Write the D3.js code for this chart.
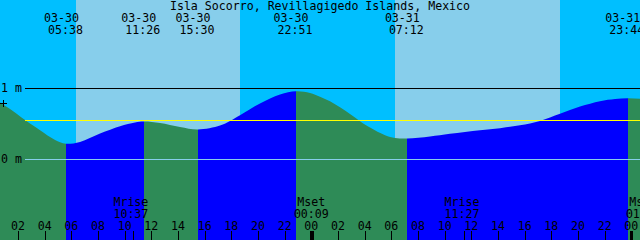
<!DOCTYPE html>
<html><head><meta charset="utf-8">
<script src="https://cdn.jsdelivr.net/npm/d3@7"></script>
<style>
html,body{margin:0;padding:0;background:#fff;}
svg{display:block;}
text{font-family:"DejaVu Sans Mono",monospace;font-size:11.6px;fill:#000;}
</style>
</head><body>
<svg id="c" width="640" height="240"></svg>
<script>
// ---------- data ----------
const title = "Isla Socorro, Revillagigedo Islands, Mexico";
const year = 2024;
const baseDate = "03-30";            // tide sample hours are counted from 00:00 of this day
const viewStart = "03-30 00:39";     // left edge of the chart (48 h window)
const viewHours = 48;

// tide level samples (hours after 03-30 00:00, metres)
const tideHours  = [-1, 0, 0.6525, 1.4025, 2.5275, 3.6525, 4.4025, 5.1525, 5.633, 6.6525, 8.1525, 9.6525, 10.78, 11.433, 12.65, 14.15, 15.5, 17.15, 17.9, 18.65, 20.15, 21.65, 22.85, 23.9, 24.65, 25.4, 26.15, 26.9, 27.65, 28.4, 29.53, 30.28, 31.2, 32.9, 34.4, 36.65, 38.15, 39.65, 41.15, 42.65, 44.15, 45.65, 46.78, 47.733, 48.65, 49.5];
const tideLevels = [0.94, 0.88, 0.803, 0.71, 0.556, 0.413, 0.318, 0.244, 0.222, 0.248, 0.366, 0.469, 0.521, 0.535, 0.515, 0.459, 0.423, 0.479, 0.544, 0.624, 0.789, 0.915, 0.962, 0.938, 0.884, 0.82, 0.735, 0.64, 0.54, 0.45, 0.342, 0.304, 0.296, 0.324, 0.362, 0.413, 0.441, 0.483, 0.544, 0.645, 0.745, 0.821, 0.852, 0.863, 0.854, 0.84];

// high / low tide events
const extremeDates = ["03-30", "03-30", "03-30", "03-30", "03-31", "03-31"];
const extremeTimes = ["05:38", "11:26", "15:30", "22:51", "07:12", "23:44"];
const extremeKinds = ["low", "high", "low", "high", "low", "high"];

// sunrise / sunset (pairs)
const sunriseTimes = ["03-30 06:21", "03-31 06:17"];
const sunsetTimes  = ["03-30 18:39", "03-31 18:39"];

// moon events
const moonLabels = ["Mrise", "Mset", "Mrise", "Mset"];
const moonDates  = ["03-30", "03-31", "03-31", "04-01"];
const moonTimes  = ["10:37", "00:09", "11:27", "01:03"];

// level axis
const levelTicks = [1, 0];
const levelTickLabels = ["1 m", "0 m"];
const meanLevel = 0.55;
const startLevel = 0.80;   // level at left edge (marked with +)

// ---------- helpers ----------
function parseMD(md, hm) {
  const [m, d] = md.split("-").map(Number);
  const [H, M] = (hm || "00:00").split(":").map(Number);
  return new Date(Date.UTC(year, m - 1, d, H, M));
}
function parseStamp(s) { const [md, hm] = s.split(" "); return parseMD(md, hm); }
const base = parseMD(baseDate, "00:00");
const start = parseStamp(viewStart);
const end = new Date(+start + viewHours * 3600e3);

const W = 640, H = 240;
const svg = d3.select("#c");
const xs = d3.scaleUtc().domain([start, end]).range([0, W]);
const ys = d3.scaleLinear().domain([0, 1]).range([159.5, 88.5]);

const NIGHT = "#00BFFF", DAY = "#87CEEB", RISING = "#0000FF", FALLING = "#2E8B57";

// background
svg.append("rect").attr("x", 0).attr("y", 0).attr("width", W).attr("height", H).attr("fill", NIGHT);
sunriseTimes.forEach((r, i) => {
  const x0 = Math.round(xs(parseStamp(r))), x1 = Math.round(xs(parseStamp(sunsetTimes[i])));
  svg.append("rect").attr("x", x0).attr("y", 0).attr("width", x1 - x0).attr("height", H).attr("fill", DAY);
});

// water
const tide = tideHours.map((h, i) => ({ t: new Date(+base + h * 3600e3), v: tideLevels[i] }));
const area = d3.area().x(d => xs(d.t)).y0(H).y1(d => ys(d.v)).curve(d3.curveCatmullRom.alpha(0.5));
const extremes = extremeTimes.map((t, i) => ({ t: parseMD(extremeDates[i], t), kind: extremeKinds[i] }));
const bounds = [new Date(+start - 3 * 3600e3), ...extremes.map(e => e.t), new Date(+end + 3 * 3600e3)];
const defs = svg.append("defs");
for (let i = 0; i < bounds.length - 1; i++) {
  const x0 = Math.round(xs(bounds[i])), x1 = Math.round(xs(bounds[i + 1]));
  const rising = i < extremes.length ? extremes[i].kind === "high" : extremes[extremes.length - 1].kind === "low";
  const id = "seg" + i;
  defs.append("clipPath").attr("id", id).append("rect")
    .attr("x", x0).attr("y", 0).attr("width", x1 - x0).attr("height", H);
  svg.append("path").datum(tide).attr("d", area).attr("fill", rising ? RISING : FALLING)
    .attr("clip-path", `url(#${id})`);
}

// level lines
const lineColors = { 1: "#000000", 0: "#87CEEB" };
levelTicks.forEach((lv, i) => {
  const y = Math.round(ys(lv) - 0.5) + 0.5;
  svg.append("line").attr("x1", 25).attr("x2", W).attr("y1", y).attr("y2", y)
    .attr("stroke", lineColors[lv]).attr("stroke-width", 1);
  svg.append("text").attr("x", 1).attr("y", y + 3.5).text(levelTickLabels[i]);
});
{
  const y = Math.round(ys(meanLevel) - 0.5) + 0.5;
  svg.append("line").attr("x1", 25).attr("x2", W).attr("y1", y).attr("y2", y)
    .attr("stroke", "#FFFF00").attr("stroke-width", 1);
}
// + marker at left edge level
{
  const cx = Math.round(xs(start)) + 3.5, cy = Math.round(ys(startLevel)) + 0.5;
  svg.append("line").attr("x1", cx - 3.5).attr("x2", cx + 3.5).attr("y1", cy).attr("y2", cy).attr("stroke", "#000");
  svg.append("line").attr("x1", cx).attr("x2", cx).attr("y1", cy - 3.5).attr("y2", cy + 3.5).attr("stroke", "#000");
}

// title
svg.append("text").attr("x", W / 2).attr("y", 10).attr("text-anchor", "middle").text(title);

// tide event labels
extremes.forEach((e, i) => {
  const x = xs(e.t);
  svg.append("text").attr("x", x - 5).attr("y", 21.5).attr("text-anchor", "middle").text(extremeDates[i]);
  svg.append("text").attr("x", x - 1).attr("y", 34).attr("text-anchor", "middle").text(extremeTimes[i]);
});

// hour ticks
const hours = d3.utcHour.every(2).range(start, new Date(+end + 3600e3));
const fmtH = d3.utcFormat("%H");
hours.forEach(h => {
  const x = Math.round(xs(h));
  const midnight = h.getUTCHours() === 0;
  svg.append("rect").attr("x", midnight ? x - 1 : x).attr("y", 231)
    .attr("width", midnight ? 3 : 1).attr("height", 9).attr("fill", "#000");
  svg.append("text").attr("x", xs(h)).attr("y", 229.5).attr("text-anchor", "middle").text(fmtH(h));
});

// moon events
moonTimes.forEach((t, i) => {
  const d = parseMD(moonDates[i], t);
  const x = xs(d);
  svg.append("rect").attr("x", Math.round(x)).attr("y", 231).attr("width", 1).attr("height", 9).attr("fill", "#000");
  svg.append("text").attr("x", x - 2).attr("y", 206).attr("text-anchor", "middle").text(moonLabels[i]);
  svg.append("text").attr("x", x - 2).attr("y", 217.5).attr("text-anchor", "middle").text(t);
});
</script>
</body></html>
